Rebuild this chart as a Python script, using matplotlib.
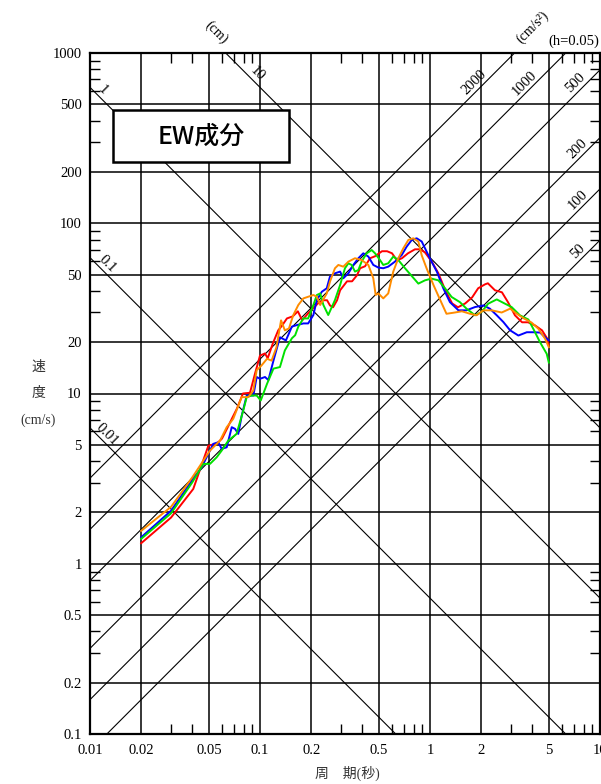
import numpy as np
import matplotlib
matplotlib.use('Agg')
import matplotlib.pyplot as plt
from matplotlib.patches import Rectangle

# 周期 T (秒) と擬似速度応答 SV (cm/s)、グラフから読み取り
red_T = [0.02, 0.03, 0.0405, 0.0497, 0.0558, 0.0598, 0.064, 0.0684, 0.0732, 0.0794, 0.0873, 0.0935,
         0.1, 0.107, 0.111, 0.119, 0.128, 0.135, 0.144, 0.156, 0.167, 0.177, 0.192, 0.205, 0.219,
         0.232, 0.248, 0.258, 0.269, 0.284, 0.296, 0.325, 0.348, 0.372, 0.388, 0.415, 0.444, 0.475,
         0.522, 0.559, 0.598, 0.639, 0.684, 0.742, 0.816, 0.873, 0.934, 1.03, 1.12, 1.23, 1.35,
         1.46, 1.61, 1.77, 1.92, 2.11, 2.19, 2.41, 2.65, 2.88, 3.16, 3.48, 3.77, 4.15, 4.56, 4.88, 5.0]
red_SV = [1.32, 1.87, 2.75, 4.94, 5.08, 5.44, 6.22, 7.13, 8.16, 10.0, 10.1, 13.1,
          16.7, 17.2, 16.1, 19.7, 23.5, 25.1, 27.6, 28.4, 30.4, 26.9, 29.6, 31.6, 33.8,
          35.3, 35.3, 32.9, 32.1, 35.3, 40.4, 45.6, 45.6, 49.5, 54.4, 55.9, 62.3, 64.0,
          68.5, 68.5, 66.6, 60.6, 62.3, 66.6, 70.3, 70.3, 67.5, 59.0, 50.8, 40.4, 33.8,
          32.1, 33.8, 36.7, 41.5, 43.8, 44.4, 40.4, 39.3, 34.3, 28.8, 26.2, 26.2, 25.1, 23.5, 21.1, 19.2]

blue_T = [0.02, 0.03, 0.04, 0.0454, 0.0531, 0.0568, 0.0595, 0.0637, 0.0682, 0.0713, 0.0745, 0.0781,
          0.0835, 0.0914, 0.0956, 0.1, 0.107, 0.112, 0.12, 0.131, 0.142, 0.154, 0.164, 0.18, 0.192,
          0.206, 0.216, 0.231, 0.247, 0.258, 0.276, 0.296, 0.309, 0.331, 0.354, 0.379, 0.405, 0.434,
          0.464, 0.497, 0.531, 0.568, 0.622, 0.682, 0.729, 0.781, 0.835, 0.894, 1.0, 1.1, 1.2, 1.31,
          1.47, 1.64, 1.84, 2.06, 2.25, 2.47, 2.7, 2.96, 3.31, 3.71, 4.05, 4.44, 4.75, 5.0]
blue_SV = [1.43, 2.05, 3.11, 3.69, 5.06, 5.17, 4.73, 4.83, 6.34, 6.2, 5.79, 7.42,
           9.73, 9.73, 12.5, 12.2, 12.5, 12.0, 15.6, 21.4, 20.5, 24.7, 25.2, 25.8, 25.8,
           28.9, 35.4, 39.6, 41.5, 48.6, 50.8, 52.0, 47.5, 50.8, 56.9, 62.3, 66.6, 63.7,
           56.9, 54.9, 54.4, 55.6, 59.5, 65.1, 72.9, 79.8, 81.6, 78.1, 62.0, 51.7, 41.3, 34.4,
           30.8, 30.8, 32.2, 32.9, 31.5, 28.8, 26.3, 23.5, 21.9, 22.9, 22.9, 22.8, 21.4, 20.5]

green_T = [0.02, 0.03, 0.04, 0.0464, 0.0508, 0.0556, 0.0595, 0.0651, 0.0728, 0.0797, 0.0835, 0.0894,
           0.0956, 0.101, 0.11, 0.12, 0.131, 0.14, 0.154, 0.161, 0.168, 0.18, 0.192, 0.206, 0.216,
           0.226, 0.236, 0.252, 0.276, 0.296, 0.316, 0.331, 0.346, 0.362, 0.379, 0.396, 0.424, 0.454,
           0.475, 0.508, 0.531, 0.568, 0.608, 0.651, 0.713, 0.781, 0.854, 0.934, 1.02, 1.12, 1.23,
           1.34, 1.5, 1.64, 1.84, 2.01, 2.2, 2.47, 2.76, 3.02, 3.38, 3.79, 4.05, 4.44, 4.86, 5.0]
green_SV = [1.40, 1.98, 3.01, 3.86, 3.86, 4.22, 4.62, 5.29, 5.79, 7.94, 9.52, 9.73,
            9.73, 9.1, 11.4, 14.0, 14.3, 17.9, 21.1, 22.0, 24.7, 27.6, 27.6, 33.1, 37.9,
            38.7, 33.1, 28.9, 35.4, 43.4, 54.4, 58.2, 56.9, 52.0, 53.1, 59.5, 66.6, 69.6,
            66.6, 60.8, 56.9, 58.2, 63.7, 60.8, 54.4, 49.0, 44.2, 46.2, 47.3, 46.2, 41.3,
            36.9, 34.4, 31.5, 28.8, 30.1, 33.7, 35.7, 33.7, 32.2, 28.8, 27.2, 24.0, 20.0, 17.1, 15.2]

orange_T = [0.02, 0.03, 0.04, 0.0508, 0.0582, 0.0637, 0.0696, 0.078, 0.0853, 0.0913, 0.0956, 0.102,
            0.11, 0.117, 0.125, 0.133, 0.14, 0.148, 0.157, 0.168, 0.18, 0.192, 0.206, 0.216, 0.226,
            0.247, 0.258, 0.276, 0.289, 0.309, 0.331, 0.362, 0.396, 0.434, 0.464, 0.479, 0.497, 0.531,
            0.568, 0.608, 0.651, 0.697, 0.746, 0.798, 0.854, 0.894, 0.956, 1.05, 1.15, 1.25, 1.37,
            1.54, 1.72, 1.88, 2.06, 2.31, 2.64, 2.96, 3.24, 3.54, 3.96, 4.34, 4.75, 5.0]
orange_SV = [1.56, 2.16, 3.22, 4.62, 5.29, 6.34, 7.1, 9.52, 9.52, 10.4, 13.7, 14.6,
             16.0, 15.6, 18.7, 26.9, 23.5, 24.1, 28.9, 33.1, 36.2, 37.0, 37.9, 37.0, 33.1,
             38.7, 45.4, 54.4, 56.9, 55.6, 59.5, 62.3, 60.8, 56.9, 47.5, 37.9, 38.7, 36.2,
             38.7, 52.0, 62.3, 71.3, 79.8, 81.6, 78.1, 64.8, 54.2, 43.2, 35.3, 29.4, 29.8,
             30.4, 29.4, 28.8, 30.8, 30.8, 29.9, 31.5, 29.4, 27.7, 26.1, 24.0, 21.0, 18.7]

# 目盛
x_major = [0.01, 0.02, 0.05, 0.1, 0.2, 0.5, 1, 2, 5, 10]
x_labels = ['0.01', '0.02', '0.05', '0.1', '0.2', '0.5', '1', '2', '5', '10']
y_major = [0.1, 0.2, 0.5, 1, 2, 5, 10, 20, 50, 100, 200, 500, 1000]
y_labels = ['0.1', '0.2', '0.5', '1', '2', '5', '10', '20', '50', '100', '200', '500', '1000']
minor_mult = [3, 4, 6, 7, 8, 9]
decades = [0.01, 0.1, 1, 10, 100]

# 変位線 (cm) と 加速度線 (cm/s2)
disp_vals = [0.01, 0.1, 1, 10]
disp_labels = ['0.01', '0.1', '1', '10']
disp_label_T = [0.0126, 0.0126, 0.0119, 0.096]
acc_vals = [50, 100, 200, 500, 1000, 2000]
acc_labels = ['50', '100', '200', '500', '1000', '2000']
acc_label_T = [7.4, 7.4, 7.4, 7.2, 3.62, 1.82]

serif = ['Liberation Serif', 'Noto Sans CJK JP']

fig = plt.figure(figsize=(6.01, 7.84), dpi=100)
W, H = 601, 784
ax = fig.add_axes([90 / W, 1 - 734 / H, 510 / W, 681 / H])
ax.set_xscale('log')
ax.set_yscale('log')
ax.set_xlim(0.01, 10)
ax.set_ylim(0.1, 1000)

# グリッド
for xv in x_major:
    ax.axvline(xv, color='black', lw=1.1, zorder=1)
for yv in y_major:
    ax.axhline(yv, color='black', lw=1.1, zorder=1)

# 斜め線
Tline = np.array([0.001, 100.0])
for d in disp_vals:
    ax.plot(Tline, 2 * np.pi * d / Tline, color='black', lw=0.8, zorder=1)
for a in acc_vals:
    ax.plot(Tline, a * Tline / (2 * np.pi), color='black', lw=0.8, zorder=1)

for d, lab, t in zip(disp_vals, disp_labels, disp_label_T):
    ax.text(t, 2 * np.pi * d / t * 1.15, lab, rotation=-45, ha='center', va='center',
            fontsize=10.5, family=serif, zorder=3)
for a, lab, t in zip(acc_vals, acc_labels, acc_label_T):
    ax.text(t, a * t / (2 * np.pi) * 1.16, lab, rotation=45, ha='center', va='center',
            fontsize=10.5, family=serif, zorder=3)

# スペクトル
ax.plot(red_T, red_SV, color='#ff0000', lw=1.4, zorder=4)
ax.plot(blue_T, blue_SV, color='#0000ff', lw=1.4, zorder=4)
ax.plot(green_T, green_SV, color='#00e000', lw=1.4, zorder=4)
ax.plot(orange_T, orange_SV, color='#ff8c00', lw=1.4, zorder=4)

# 軸
ax.set_xticks(x_major)
ax.set_xticklabels(x_labels)
ax.set_yticks(y_major)
ax.set_yticklabels(y_labels)
minors = [d * m for d in decades for m in minor_mult]
ax.set_xticks([v for v in minors if 0.01 < v < 10], minor=True)
ax.set_yticks([v for v in minors if 0.1 < v < 1000], minor=True)
ax.set_xticklabels([], minor=True)
ax.set_yticklabels([], minor=True)
ax.tick_params(which='major', length=0, labelsize=10.5)
ax.tick_params(axis='x', which='major', pad=7)
ax.tick_params(axis='y', which='major', pad=6)
ax.tick_params(which='minor', direction='in', length=7, width=1.0,
               top=True, right=True, bottom=True, left=True)
for lab in ax.get_xticklabels() + ax.get_yticklabels():
    lab.set_family(serif)
for s in ax.spines.values():
    s.set_linewidth(1.6)

# 注記
fig.text(216 / W, 1 - 32 / H, '(cm)', rotation=-45, ha='center', va='center',
         fontsize=10, family=serif)
fig.text(533 / W, 1 - 27 / H, '(cm/s²)', rotation=45, ha='center', va='center',
         fontsize=10, family=serif)
fig.text(548 / W, 1 - 41 / H, '(h=0.05)', ha='left', va='center', fontsize=10.5, family=serif)

fig.text(38 / W, 1 - 367 / H, '速', ha='center', va='center', fontsize=10, family=serif, color='#333333')
fig.text(38 / W, 1 - 393 / H, '度', ha='center', va='center', fontsize=10, family=serif, color='#333333')
fig.text(38 / W, 1 - 420 / H, '(cm/s)', ha='center', va='center', fontsize=10, family=serif, color='#333333')
fig.text(347 / W, 1 - 773 / H, '周\u3000期(秒)', ha='center', va='center', fontsize=10,
         family=serif, color='#333333')

# タイトル枠
fig.patches.append(Rectangle((113 / W, 1 - 162 / H), 176 / W, 52 / H, transform=fig.transFigure,
                             facecolor='white', edgecolor='black', lw=1.8, zorder=5))
fig.text(201 / W, 1 - 137 / H, 'EW成分', ha='center', va='center', fontsize=18,
         family=['Noto Sans CJK JP'], weight='medium', zorder=6)

fig.savefig('out.png', dpi=100)
